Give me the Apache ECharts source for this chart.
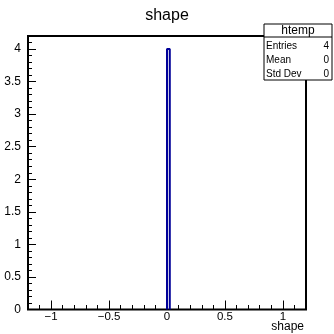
<!DOCTYPE html>
<html><head><meta charset="utf-8">
<script src="https://cdn.jsdelivr.net/npm/echarts@6/dist/echarts.min.js"></script>
<style>html,body{margin:0;padding:0;background:#fff}#c{width:334px;height:334px}</style>
</head><body><div id="c"></div>
<script>
const chartTitle = 'shape';
const xName = 'shape';
const binEdges = [0, 0.024];
const binCounts = [4];
const xRange = [-1.2, 1.2];
const yRange = [0, 4.2];
const xMajorTicks = [-1, -0.5, 0, 0.5, 1];
const yMajorTicks = [0, 0.5, 1, 1.5, 2, 2.5, 3, 3.5, 4];
const statsTitle = 'htemp';
const statsLabels = ['Entries', 'Mean', 'Std Dev'];
const statsValues = ['4', '0', '0'];

const FONT = "'Liberation Sans', Arial, Helvetica, sans-serif";
const steps = [];
for (let i = 0; i < binCounts.length; i++) {
  steps.push([binEdges[i], 0], [binEdges[i], binCounts[i]], [binEdges[i + 1], binCounts[i]], [binEdges[i + 1], 0]);
}
const chart = echarts.init(document.getElementById('c'), null, {renderer: 'canvas'});
const rows = statsLabels.map((l, i) => [l, statsValues[i]]);
const statGraphics = [
  {type: 'rect', shape: {x: 264, y: 24, width: 68, height: 56}, style: {fill: '#fff', stroke: '#000', lineWidth: 1}, z: 100},
  {type: 'line', shape: {x1: 264, y1: 37, x2: 332, y2: 37}, style: {stroke: '#000', lineWidth: 1}, z: 101},
  {type: 'text', x: 298, y: 31, style: {text: statsTitle, font: '12px ' + FONT, fill: '#000', align: 'center', verticalAlign: 'middle'}, z: 101}
];
rows.forEach((r, i) => {
  statGraphics.push({type: 'text', x: 266, y: 46 + i * 14, style: {text: r[0], font: '10px ' + FONT, fill: '#000', align: 'left', verticalAlign: 'middle'}, z: 101});
  statGraphics.push({type: 'text', x: 329, y: 46 + i * 14, style: {text: r[1], font: '10px ' + FONT, fill: '#000', align: 'right', verticalAlign: 'middle'}, z: 101});
});
const tickStyle = {color: '#000', width: 1};
chart.setOption({
  animation: false,
  title: {text: chartTitle, left: 'center', top: 3, textStyle: {fontFamily: FONT, fontSize: 16, fontWeight: 'normal', color: '#000'}},
  grid: {left: 28, right: 28, top: 36, bottom: 24.5, show: true, borderColor: '#000', borderWidth: 2, backgroundColor: 'transparent'},
  xAxis: [
    {type: 'value', min: xRange[0], max: xRange[1], position: 'bottom',
     axisLine: {show: false, onZero: false}, splitLine: {show: false},
     axisTick: {show: true, inside: true, length: 9, lineStyle: tickStyle, customValues: xMajorTicks},
     axisLabel: {show: true, margin: 1, fontSize: 11.5, fontFamily: FONT, color: '#000', customValues: xMajorTicks,
       formatter: v => String(v).replace('-', '\u2212')}},
    {type: 'value', min: xRange[0], max: xRange[1], interval: 0.1, position: 'bottom',
     axisLine: {show: false, onZero: false}, splitLine: {show: false}, axisLabel: {show: false},
     axisTick: {show: true, inside: true, length: 4.5, lineStyle: tickStyle}}
  ],
  yAxis: [
    {type: 'value', min: yRange[0], max: yRange[1], position: 'left',
     axisLine: {show: false, onZero: false}, splitLine: {show: false},
     axisTick: {show: true, inside: true, length: 8, lineStyle: tickStyle, customValues: yMajorTicks},
     axisLabel: {show: true, margin: 7, fontSize: 12, fontFamily: FONT, color: '#000', customValues: yMajorTicks,
       formatter: v => String(v)}},
    {type: 'value', min: yRange[0], max: yRange[1], interval: 0.1, position: 'left',
     axisLine: {show: false, onZero: false}, splitLine: {show: false}, axisLabel: {show: false},
     axisTick: {show: true, inside: true, length: 4, lineStyle: tickStyle}}
  ],
  series: [{
    type: 'line', xAxisIndex: 0, yAxisIndex: 0, data: steps, symbol: 'none',
    lineStyle: {color: '#000099', width: 2}, z: 5
  }],
  graphic: [
    {type: 'text', x: 304, y: 327, style: {text: xName, font: '12px ' + FONT, fill: '#000', align: 'right', verticalAlign: 'middle'}},
    ...statGraphics
  ]
});
</script></body></html>
